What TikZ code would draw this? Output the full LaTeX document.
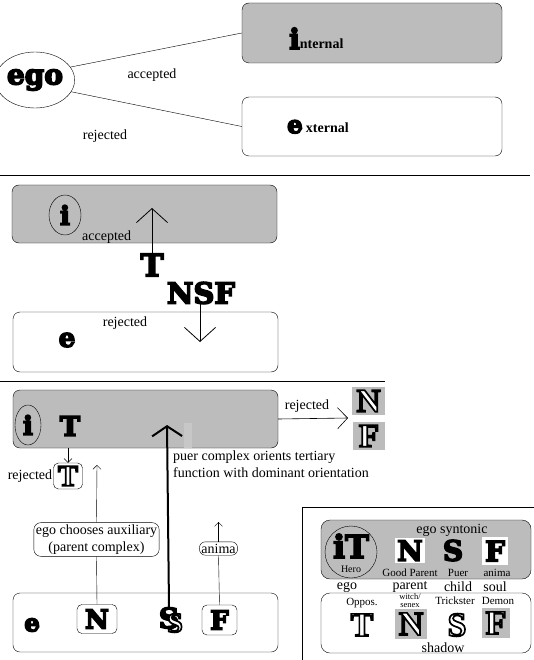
\documentclass[tikz,border=0pt]{standalone}
\usepackage{fontspec}
\setmainfont{Liberation Serif}
\newfontfamily\heavyfont{DejaVu Serif}
\usepackage{tikz}
\usetikzlibrary{shapes,arrows.meta,positioning,calc}
\definecolor{dotgray}{RGB}{188,188,188}
\newcommand{\hvs}[2]{{\heavyfont\bfseries\fontsize{#1}{#1}\selectfont\special{pdf:literal direct 2 Tr 1.6 w 0 G}#2\special{pdf:literal direct 0 Tr}}}
\newcommand{\hollow}[2]{{\fontsize{#1}{#1}\selectfont\bfseries\color{white}\special{pdf:literal direct 2 Tr 1.7 w 0 G}#2\special{pdf:literal direct 0 Tr}}}

\begin{document}
\begin{tikzpicture}[x=1pt,y=-1pt,
  grbox/.style={draw, rounded corners=7pt, fill=dotgray},
  whbox/.style={draw, rounded corners=7pt, fill=white},
  lbl/.style={font=\fontsize{14}{17}\selectfont, inner sep=0pt},
  sml/.style={font=\fontsize{11}{11}\selectfont, inner sep=0pt},
  bigv/.style={-{Straight Barb[length=14pt,width=31pt]}},
  midv/.style={-{Straight Barb[length=10pt,width=21pt]}},
  smallv/.style={-{Straight Barb[length=4pt,width=8pt]}}]
\useasboundingbox (0,0) rectangle (534,660);

\node[draw, ellipse, minimum width=62pt, minimum height=56pt, inner sep=0pt] (ego) at (35,80) {\hvs{28}{ego}};
\node[grbox, minimum width=260pt, minimum height=60pt] (inbox) at (372,33) {};
\node[anchor=base west, inner sep=0pt] (intxt) at (289,49) {\hvs{28}{i}\bfseries\fontsize{14}{14}\selectfont nternal};
\node[whbox, minimum width=260pt, minimum height=59pt] (exbox) at (372,126.5) {};
\node[anchor=base west, inner sep=0pt] (extxt) at (287,133) {\hvs{24}{e}\bfseries\fontsize{14}{14}\selectfont\ xternal};
\draw (ego.20) -- (inbox.west);
\draw (ego.-18) -- (exbox.west);
\node[lbl] (acc1) at (152,75) {accepted};
\node[lbl] (rej1) at (105,136) {rejected};
\draw (0,175) -- (530,175);

\node[grbox, minimum width=265pt, minimum height=58pt] (inbox2) at (144.5,214) {};
\node[draw, ellipse, minimum width=32pt, minimum height=40pt, inner sep=0pt] (icirc2) at (65,215) {\hvs{26}{i}};
\node[lbl, anchor=base west] (acc2) at (82,240) {accepted};
\node[inner sep=0pt] (tmid) at (152,265) {\hvs{31}{T}};
\node[inner sep=0pt] (nsf) at (201,293) {\hvs{29}{NSF}};
\node[whbox, minimum width=265pt, minimum height=60pt] (exbox2) at (145.5,342) {};
\node[lbl] (rej2) at (125,323) {rejected};
\node[inner sep=0pt] (e2) at (67,340) {\hvs{26}{e}};
\coordinate (uptip) at (152,208);
\coordinate (downtip) at (200,342);
\draw[thick, bigv] (tmid.north) -- (uptip);
\draw[thick, bigv] (nsf.south -| downtip) -- (downtip);
\draw (0,381) -- (385,381);

\node[grbox, minimum width=265pt, minimum height=58pt] (inbox3) at (145.5,419) {};
\node[draw, ellipse, minimum width=26pt, minimum height=40pt, inner sep=0pt] (icirc3) at (28,425) {\hvs{26}{i}};
\node[inner sep=0pt] (t3) at (70,426) {\hvs{27}{T}};
\fill[black!22] (184,423) rectangle (192,448);
\coordinate (puertip) at (167,425);
\coordinate (rejtip) at (348,418);
\draw[semithick, midv] (inbox3.east) -- (rejtip);
\node[lbl] (rej3) at (307,406) {rejected};
\node[fill=dotgray, minimum width=33pt, minimum height=28pt, inner sep=0pt] (nrej) at (368.5,401) {\hollow{33}{N}};
\node[fill=dotgray, minimum width=32pt, minimum height=28pt, inner sep=0pt] (frej) at (369,436) {\hollow{33}{F}};
\node[whbox, rounded corners=5pt, minimum width=29pt, minimum height=26pt, inner sep=0pt] (tbox) at (68,476) {\hollow{30}{T}};
\node[lbl, left=1pt of tbox] (rej4) {rejected};
\draw[smallv] (tbox.north |- inbox3.south) -- (tbox.north);
\node[lbl, anchor=north west, align=left] (puer) at (173,451) {puer complex orients tertiary\\function with dominant orientation};
\node[whbox, lbl, align=center, inner sep=2pt] (egoch) at (96.5,539.5) {ego chooses auxiliary\\(parent complex)};
\coordinate (auxtip) at (97,465);
\draw[smallv] (egoch.north) -- (auxtip);
\node[whbox, lbl, rounded corners=6pt, inner sep=2pt] (anima) at (218.5,548.5) {anima};
\coordinate (animatip) at (218.5,522);
\node[whbox, minimum width=265pt, minimum height=59pt] (exbox3) at (145.5,622.5) {};
\node[inner sep=0pt] (e3) at (32,625) {\hvs{24}{e}};
\node[whbox, rounded corners=5pt, minimum width=40pt, minimum height=29pt, inner sep=0pt] (nbox) at (97,619) {\hvs{26}{N}};
\node[inner sep=0pt] (sblk) at (169,618) {\hvs{28}{S}};
\node[inner sep=0pt] (shol) at (175,623) {\hollow{28}{S}};
\node[whbox, rounded corners=5pt, minimum width=35pt, minimum height=30pt, inner sep=0pt] (fbox) at (219.5,620) {\hvs{26}{F}};
\draw (egoch.south) -- (nbox.north);
\draw (fbox.north) -- (anima.south);
\draw[smallv] (anima.north) -- (animatip);
\draw[line width=2pt, -{Straight Barb[length=10pt,width=30pt]}] (sblk.north) -- (puertip);

\draw (302,660) -- (302,507) -- (534,507);
\node[grbox, rounded corners=9pt, minimum width=210pt, minimum height=59pt] (synbox) at (426,549.5) {};
\node[draw, circle, fill=dotgray, minimum size=52pt, inner sep=0pt] (hero) at (351,552) {};
\node[inner sep=0pt] (itx) at (351,546) {\hvs{32}{iT}};
\node[inner sep=0pt, font=\fontsize{10}{10}\selectfont] (herolbl) at (351,569) {Hero};
\node[lbl] (syn) at (452,530) {ego syntonic};
\node[fill=white, minimum width=30pt, minimum height=25pt, inner sep=0pt] (ngood) at (410,550.5) {\hvs{28}{N}};
\node[fill=dotgray, minimum width=30pt, minimum height=25pt, inner sep=0pt] (spuer) at (453,550.5) {\hvs{28}{S}};
\node[fill=white, minimum width=26pt, minimum height=28pt, inner sep=0pt] (fanima) at (495,551) {\hvs{28}{F}};
\node[sml] (goodp) at (410,573) {Good Parent};
\node[sml] (puerl) at (458,573) {Puer};
\node[sml] (animal) at (497,573) {anima};
\node[lbl] (egol) at (347,587) {ego};
\node[lbl] (parl) at (410,587) {parent};
\node[lbl] (chil) at (458,587) {child};
\node[lbl] (soul) at (495,587) {soul};
\node[whbox, rounded corners=9pt, minimum width=210pt, minimum height=60pt] (shbox) at (426,623) {};
\node[sml] (oppl) at (362,603) {Oppos.};
\node[inner sep=0pt, align=center, font=\fontsize{8.5}{8}\selectfont] (witl) at (410,601) {witch/\\senex};
\node[sml] (tril) at (455,601) {Trickster};
\node[sml] (deml) at (498,601) {Demon};
\node[inner sep=0pt] (thol) at (362,625) {\hollow{34}{T}};
\node[fill=dotgray, minimum width=32pt, minimum height=30pt, inner sep=0pt] (nhol) at (411,624) {\hollow{34}{N}};
\node[inner sep=0pt] (shol2) at (457,625) {\hollow{34}{S}};
\node[fill=dotgray, minimum width=28pt, minimum height=30pt, inner sep=0pt] (fhol) at (496,623) {\hollow{34}{F}};
\node[lbl] (shad) at (443,648) {shadow};
\end{tikzpicture}
\end{document}
